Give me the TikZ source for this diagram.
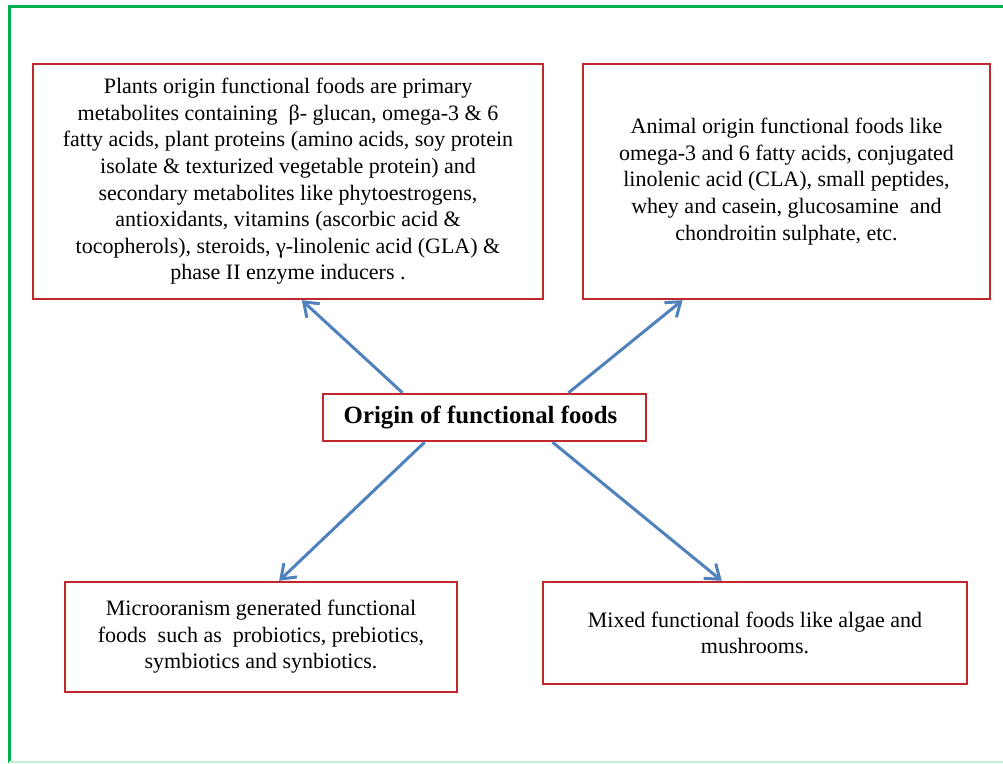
\documentclass[tikz,border=0pt]{standalone}
\usepackage{fontspec}
\setmainfont{Liberation Serif}
\usetikzlibrary{arrows.meta,calc}
\definecolor{boxred}{HTML}{C0282D}
\definecolor{arrblue}{HTML}{4F81BD}
\definecolor{framegreen}{HTML}{00B050}
\definecolor{lightgreen}{HTML}{C6EFD6}
\begin{document}
\begin{tikzpicture}[x=1pt,y=1pt,
  infobox/.style={draw=boxred,line width=2.4pt,fill=white,align=center,inner sep=0pt,
    font=\fontsize{22}{26.6}\selectfont},
  conn/.style={draw=arrblue,line width=3pt,-{Straight Barb[length=13pt,width=19pt,line width=3pt]}}]
\useasboundingbox (0,0) rectangle (1003,763);
% green frame (partly cut off)
\draw[framegreen,line width=3pt] (9,0) -- (9,756) -- (1003,756);
\draw[lightgreen,line width=1.5pt] (9,0.8) -- (1003,0.8);
% boxes
\node[infobox,minimum width=510pt,minimum height=235pt] (plant) at (288,581.5)
 {Plants origin functional foods are primary\\
  metabolites containing\ \ β- glucan, omega-3 \& 6\\
  fatty acids, plant proteins (amino acids, soy protein\\
  isolate \& texturized vegetable protein) and\\
  secondary metabolites like phytoestrogens,\\
  antioxidants, vitamins (ascorbic acid \&\\
  tocopherols), steroids, γ-linolenic acid (GLA) \&\\
  phase II enzyme inducers .};
\node[infobox,minimum width=407pt,minimum height=235pt] (animal) at (786.5,581.5)
 {Animal origin functional foods like\\
  omega-3 and 6 fatty acids, conjugated\\
  linolenic acid (CLA), small peptides,\\
  whey and casein, glucosamine\ \ and\\
  chondroitin sulphate, etc.};
\node[infobox,minimum width=323pt,minimum height=47pt,font=\fontsize{24.8}{28}\selectfont\bfseries] (origin) at (484.5,345.5)
 {\hspace*{-8pt}Origin of functional foods};
\node[infobox,minimum width=392pt,minimum height=110pt] (micro) at (261,126)
 {Microoranism generated functional\\
  foods\ \ such as\ \ probiotics, prebiotics,\\
  symbiotics and synbiotics.};
\node[infobox,minimum width=424pt,minimum height=102pt] (mixed) at (755,130)
 {Mixed functional foods like algae and\\
  mushrooms.};
% connectors
\draw[conn] ($(origin.north west)!0.248!(origin.north east)$) -- ($(plant.south west)!0.527!(plant.south east)$);
\draw[conn] ($(origin.north west)!0.758!(origin.north east)$) -- ($(animal.south west)!0.246!(animal.south east)$);
\draw[conn] ($(origin.south west)!0.316!(origin.south east)$) -- ($(micro.north west)!0.546!(micro.north east)$);
\draw[conn] ($(origin.south west)!0.709!(origin.south east)$) -- ($(mixed.north west)!0.422!(mixed.north east)$);
\end{tikzpicture}
\end{document}
